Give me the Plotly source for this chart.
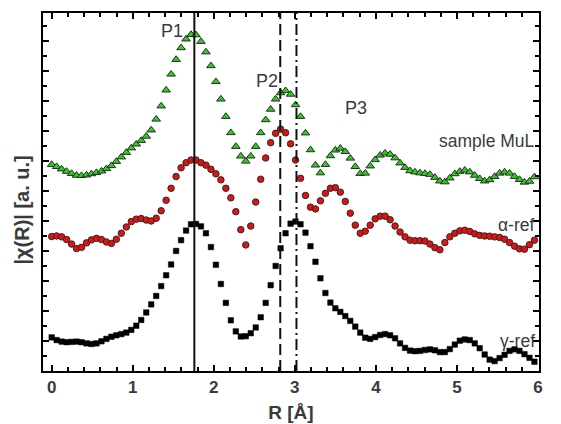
import plotly.graph_objects as go

# ---------------- data ----------------
R_STEP = 0.0614
N_PTS = 98
R = [round(i * R_STEP, 4) for i in range(N_PTS)]

sample_MuL = [6.88, 6.81, 6.73, 6.65, 6.58, 6.52, 6.51, 6.53, 6.57, 6.61,
              6.66, 6.74, 6.84, 6.98, 7.13, 7.28, 7.43, 7.56, 7.68, 7.82,
              8.03, 8.39, 8.83, 9.36, 9.89, 10.38, 10.77, 11.06, 11.21, 11.20,
              10.98, 10.63, 10.17, 9.64, 9.06, 8.48, 7.94, 7.48, 7.16, 6.99,
              7.16, 7.48, 7.94, 8.37, 8.72, 9.06, 9.27, 9.34, 9.22, 8.87,
              8.48, 7.93, 7.37, 6.86, 6.60, 6.88, 7.17, 7.36, 7.42, 7.31,
              7.09, 6.81, 6.58, 6.59, 6.83, 7.04, 7.19, 7.26, 7.22, 7.10,
              6.93, 6.78, 6.67, 6.63, 6.60, 6.58, 6.55, 6.45, 6.33, 6.30,
              6.43, 6.57, 6.65, 6.69, 6.63, 6.52, 6.41, 6.33, 6.37, 6.48,
              6.59, 6.63, 6.59, 6.48, 6.38, 6.29, 6.32, 6.47]

alpha_ref = [4.48, 4.50, 4.47, 4.38, 4.23, 4.08, 4.12, 4.27, 4.37, 4.42,
             4.38, 4.30, 4.25, 4.39, 4.59, 4.80, 4.98, 5.06, 5.08, 5.03,
             5.00, 5.09, 5.34, 5.69, 6.09, 6.48, 6.77, 6.94, 7.03, 7.03,
             6.94, 6.86, 6.72, 6.57, 6.37, 6.09, 5.77, 5.31, 4.71, 4.20,
             4.83, 5.63, 6.39, 7.10, 7.61, 7.92, 8.06, 7.94, 7.57, 7.03,
             6.42, 5.85, 5.46, 5.40, 5.67, 5.92, 6.09, 6.11, 5.96, 5.65,
             5.26, 4.86, 4.59, 4.66, 4.86, 5.07, 5.16, 5.16, 5.04, 4.83,
             4.63, 4.47, 4.36, 4.34, 4.34, 4.33, 4.23, 4.11, 4.04, 4.28,
             4.47, 4.59, 4.67, 4.69, 4.65, 4.57, 4.52, 4.50, 4.49, 4.47,
             4.45, 4.39, 4.28, 4.16, 4.07, 4.06, 4.21, 4.36]

gamma_ref = [1.12, 1.03, 0.98, 0.96, 0.97, 0.98, 0.96, 0.92, 0.90, 0.92,
             0.99, 1.07, 1.14, 1.19, 1.23, 1.28, 1.37, 1.51, 1.70, 1.95,
             2.22, 2.50, 2.83, 3.19, 3.55, 4.00, 4.36, 4.68, 4.89, 4.90,
             4.82, 4.59, 4.13, 3.54, 2.90, 2.27, 1.69, 1.32, 1.15, 1.16,
             1.26, 1.45, 1.79, 2.27, 2.86, 3.50, 4.09, 4.59, 4.91, 4.98,
             4.89, 4.61, 4.16, 3.64, 3.09, 2.60, 2.28, 2.09, 1.97, 1.83,
             1.67, 1.48, 1.28, 1.11, 1.07, 1.13, 1.20, 1.23, 1.19, 1.09,
             0.92, 0.77, 0.68, 0.66, 0.67, 0.70, 0.72, 0.69, 0.63, 0.63,
             0.73, 0.88, 1.01, 1.05, 1.03, 0.92, 0.76, 0.55, 0.38, 0.33,
             0.43, 0.54, 0.67, 0.72, 0.67, 0.56, 0.44, 0.31]

peak_R = [1.76, 2.82, 3.02]
peak_dash = ["solid", "11px,5px", "11px,4px,2px,4px"]

x_ticks = [0, 1, 2, 3, 4, 5, 6]
x_range = [-0.107, 6.012]
y_range = [0, 11.93]

# label texts with anchor positions (data units)
peak_labels = [("P1", 1.49, 11.33), ("P2", 2.66, 9.67), ("P3", 3.75, 8.77)]
curve_labels = [("sample MuL", 5.985, 7.67), ("α-ref", 5.985, 4.87), ("γ-ref", 5.985, 1.0)]

# ---------------- figure ----------------
FONT = "Liberation Sans, Arial, sans-serif"
TXT = "#3a3a3a"

fig = go.Figure()

fig.add_trace(go.Scatter(
    x=R, y=gamma_ref, mode="markers", name="γ-ref",
    marker=dict(symbol="square", size=5.5, color="#000000",
                line=dict(color="#000000", width=0.5))))
fig.add_trace(go.Scatter(
    x=R, y=alpha_ref, mode="markers", name="α-ref",
    marker=dict(symbol="circle", size=6.5, color="#e0120f",
                line=dict(color="#2a2a2a", width=1))))
fig.add_trace(go.Scatter(
    x=R, y=sample_MuL, mode="markers", name="sample MuL",
    marker=dict(symbol="triangle-up", size=7.5, color="#2fcc1f",
                line=dict(color="#2a2a2a", width=1))))

for xr, d in zip(peak_R, peak_dash):
    fig.add_shape(type="line", xref="x", yref="paper", x0=xr, x1=xr, y0=0, y1=1,
                  line=dict(color="#111111", width=2, dash=d), layer="above")

for t, x, y in peak_labels:
    fig.add_annotation(x=x, y=y, text=t, showarrow=False, xanchor="center",
                       yanchor="middle", font=dict(family=FONT, size=18, color=TXT))
for t, x, y in curve_labels:
    fig.add_annotation(x=x, y=y, text=t, showarrow=False, xanchor="right",
                       yanchor="middle", font=dict(family=FONT, size=17.5, color=TXT))

# y axis title as rotated annotation
fig.add_annotation(xref="paper", yref="paper", x=-0.043, y=0.45,
                   text="|χ(R)| [a. u.]", textangle=-90, showarrow=False,
                   xanchor="center", yanchor="middle",
                   font=dict(family=FONT, size=20, color=TXT, weight="bold"))

# the page body adds an 8px offset and the visible window is a little narrower
# than 561px, so the figure is sized to fit inside what is shown
fig.update_layout(
    width=537, height=416,
    margin=dict(l=35, r=2, t=5, b=53),
    paper_bgcolor="white", plot_bgcolor="white",
    showlegend=False,
    font=dict(family=FONT, color=TXT),
)

fig.update_xaxes(
    range=x_range, tickmode="array", tickvals=x_ticks,
    ticks="inside", ticklen=6, tickwidth=1.5, tickcolor="#000",
    minor=dict(dtick=0.2, tick0=0, ticks="inside", ticklen=4, tickwidth=1.5, tickcolor="#000"),
    showline=True, linewidth=2, linecolor="#000", mirror="ticks",
    showgrid=False, zeroline=False,
    tickfont=dict(family=FONT, size=17, color=TXT, weight="bold"),
    title=dict(text="R [Å]", font=dict(family=FONT, size=19, color=TXT, weight="bold"),
               standoff=9),
)
fig.update_yaxes(
    range=y_range, tick0=0, dtick=1,
    ticks="inside", ticklen=6, tickwidth=1.5, tickcolor="#000",
    minor=dict(dtick=0.5, tick0=0, ticks="inside", ticklen=4, tickwidth=1.5, tickcolor="#000"),
    showticklabels=False,
    showline=True, linewidth=2, linecolor="#000", mirror="ticks",
    showgrid=False, zeroline=False,
)

fig.write_html("out.html")
